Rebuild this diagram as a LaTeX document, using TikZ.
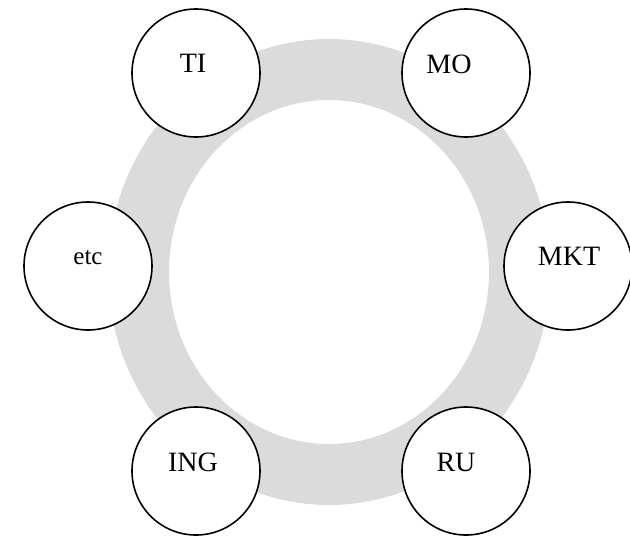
\documentclass[tikz,border=0pt]{standalone}
\usepackage{fontspec}
\setmainfont{Liberation Serif}

\tikzset{
  area/.style={draw,thick,circle,fill=white,minimum size=64pt,inner sep=0pt},
  tag/.style={font=\fontsize{14}{16}\selectfont,inner sep=0pt},
}

\begin{document}
\begin{tikzpicture}[x=0.5pt,y=-0.5pt]
\useasboundingbox (0,0) rectangle (630,536);
% grey ring behind the circles
\fill[black!14,even odd rule] (329,272) ellipse [x radius=110.5pt,y radius=116.5pt]
                              (329,272) ellipse [x radius=80pt,y radius=86pt];
\node[area] (ti) at (196,73) {};
\node[area] (mo) at (466,73) {};
\node[area] (etc) at (88,266) {};
\node[area] (mkt) at (568,266) {};
\node[area] (ing) at (196,471) {};
\node[area] (ru) at (466,471) {};
\node[tag] (ti-t) at ([shift={(-3,-10)}]ti.center) {TI};
\node[tag] (mo-t) at ([shift={(-17,-9)}]mo.center) {MO};
\node[tag,font=\fontsize{12.5}{14}\selectfont] (etc-t) at ([shift={(0,-8)}]etc.center) {etc};
\node[tag] (mkt-t) at ([shift={(1,-10)}]mkt.center) {MKT};
\node[tag] (ing-t) at ([shift={(-3,-9)}]ing.center) {ING};
\node[tag] (ru-t) at ([shift={(-10,-9)}]ru.center) {RU};
\end{tikzpicture}
\end{document}
